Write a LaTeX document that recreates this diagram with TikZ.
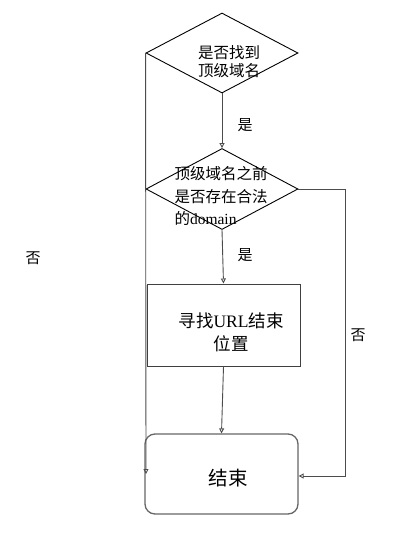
\documentclass[tikz,border=0pt]{standalone}
\usepackage{fontspec}
\setmainfont{Liberation Serif}
\newfontfamily\cjk{Noto Sans CJK SC}
\usetikzlibrary{shapes.geometric,arrows.meta}
\tikzset{
  dec/.style={diamond,draw=black,line width=0.9pt,minimum width=152pt,minimum height=80pt,inner sep=0pt,aspect=1.9},
  proc/.style={rectangle,draw=black!75,line width=1pt,minimum width=153pt,minimum height=82pt,inner sep=0pt},
  term/.style={rectangle,rounded corners=10pt,draw=black!60,line width=1.3pt,minimum width=153pt,minimum height=80pt,inner sep=0pt},
  conn/.style={draw=black!70,line width=0.9pt,-{Triangle[open,length=5pt,width=5pt]}},
  lbl/.style={font=\cjk\fontsize{15}{18}\selectfont,inner sep=0pt},
  txt/.style={inner sep=0pt,align=center}
}
\begin{document}
\begin{tikzpicture}[x=1pt,y=-1pt]
\useasboundingbox (0,0) rectangle (400,538);
\node[dec] (d1) at (222,53) {};
\node[dec,minimum height=81pt] (d2) at (222,189) {};
\node[proc] (p) at (223.5,325) {};
\node[term] (e) at (221.5,474) {};
\node[txt,font=\fontsize{15.5}{18}\selectfont] (t1) at (229,62) {\cjk 是否找到\\\cjk 顶级域名};
\node[txt,align=left,font=\fontsize{15.5}{22.5}\selectfont] (t2) at (221,196) {\cjk 顶级域名之前\\\cjk 是否存在合法\\{\cjk 的}domain};
\node[txt,font=\fontsize{17.5}{23}\selectfont] (t3) at (231,332) {{\cjk 寻找}URL{\cjk 结束}\\\cjk 位置};
\node[txt,font=\cjk\fontsize{19.5}{22}\selectfont] (t4) at (228,478) {结束};
\coordinate (lb) at (146,474);
\coordinate (r1) at (345,189);
\coordinate (r2) at (345,476);
\coordinate (rb) at (e.east |- r2);
\draw[conn] (d1.south) -- (d2.north);
\draw[conn] (d2.south) -- (p.north);
\draw[conn] (p.south) -- (e.north);
\draw[conn] (d1.west) -- (lb);
\draw[conn] (d2.east) -- (r1) -- (r2) -- (rb);
\node[lbl] (y1) at (245,125) {是};
\node[lbl] (y2) at (245,255) {是};
\node[lbl] (n1) at (33,258) {否};
\node[lbl] (n2) at (358,335) {否};
\end{tikzpicture}
\end{document}
